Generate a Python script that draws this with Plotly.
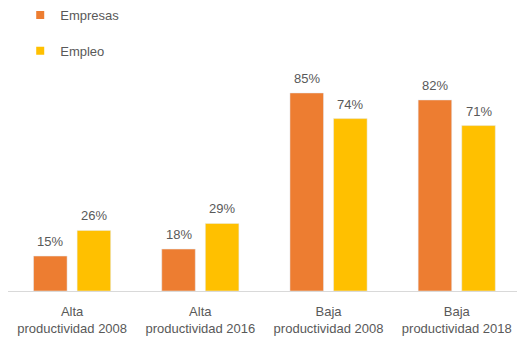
import plotly.graph_objects as go

categories = ["Alta<br>productividad 2008", "Alta<br>productividad 2016",
              "Baja<br>productividad 2008", "Baja<br>productividad 2018"]
empresas = [15, 18, 85, 82]
empleo = [26, 29, 74, 71]

ORANGE = "#ED7D31"
YELLOW = "#FFC000"
GRAY = "#595959"
FONT = "Liberation Sans"

# horizontal offset of each series' bar from the category centre (pixels)
SLOT_SHIFT = 21.8

fig = go.Figure()
for k, (name, vals, color, grp) in enumerate([("Empresas", empresas, ORANGE, "a"),
                                              ("Empleo", empleo, YELLOW, "b")]):
    fig.add_trace(go.Bar(
        x=categories, y=vals, name=name, marker_color=color,
        showlegend=False,
    ))
    # small square swatch for the legend
    fig.add_trace(go.Scatter(
        x=[None], y=[None], mode="markers", name=name, legendgroup=grp,
        marker=dict(symbol="square", size=8, color=color),
    ))
    # value labels above the bars
    for cat, v in zip(categories, vals):
        fig.add_annotation(
            x=cat, y=v, text=f"{v}%", showarrow=False,
            yanchor="bottom", yshift=5,
            xshift=(k - 0.5) * 2 * SLOT_SHIFT,
            font=dict(color=GRAY, size=13, family=FONT),
        )

fig.update_layout(
    width=517, height=339,
    margin=dict(l=8, r=0, t=55, b=48),
    paper_bgcolor="white", plot_bgcolor="white",
    barmode="group", bargap=0.32, bargroupgap=0.23,
    font=dict(family=FONT, color=GRAY, size=13),
    legend=dict(x=0.024, y=1.25, xanchor="left", yanchor="top",
                orientation="v", tracegroupgap=16,
                font=dict(size=13, color=GRAY, family=FONT),
                itemwidth=30, bgcolor="rgba(0,0,0,0)"),
    xaxis=dict(showline=True, linecolor="#D9D9D9", linewidth=1,
               ticks="", ticklabelstandoff=8, range=[-0.5, 3.47],
               tickfont=dict(size=13, color=GRAY, family=FONT)),
    yaxis=dict(range=[0, 100], visible=False, showgrid=False),
)

fig.write_html("out.html")
